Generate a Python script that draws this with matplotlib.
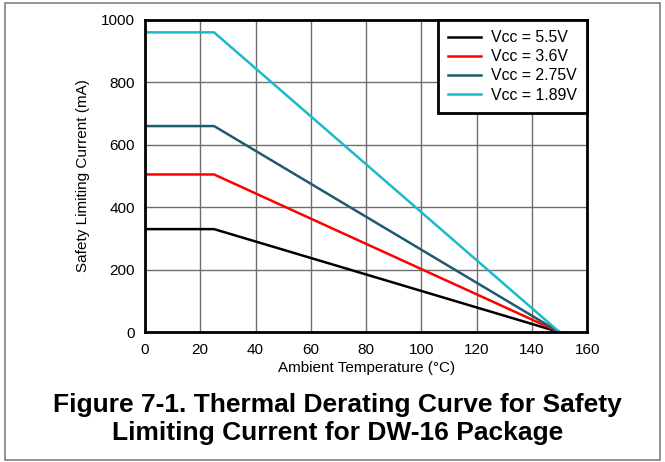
import numpy as np
import matplotlib
matplotlib.use('Agg')
import matplotlib.pyplot as plt
from matplotlib.patches import Rectangle

plt.rcParams['font.family'] = ['Liberation Sans', 'DejaVu Sans']

# Derating curves: flat to 25 C then linear down to 0 at 150 C
temps = [0, 25, 150]
labels = ['Vcc = 5.5V', 'Vcc = 3.6V', 'Vcc = 2.75V', 'Vcc = 1.89V']
currents = [
    [330, 330, 0],
    [505, 505, 0],
    [660, 660, 0],
    [960, 960, 0],
]
colors = ['#000000', '#ff0000', '#1f5b6e', '#1cb8cc']

fig = plt.figure(figsize=(6.65, 4.62), dpi=100)
ax = fig.add_axes([0.218, 0.281, 0.665, 0.676])

for lab, cur, col in zip(labels, currents, colors):
    ax.plot(temps, cur, color=col, linewidth=1.8, label=lab)

ax.set_xlim(0, 160)
ax.set_ylim(0, 1000)
ax.set_xticks(np.arange(0, 161, 20))
ax.set_yticks(np.arange(0, 1001, 200))
ax.grid(True, color='#6e6e6e', linewidth=1.0)
ax.set_axisbelow(True)
for s in ax.spines.values():
    s.set_linewidth(2.0)
ax.tick_params(length=0, labelsize=11, pad=8)
ax.tick_params(axis='y', pad=7)
ax.set_xlabel('Ambient Temperature (°C)', fontsize=11, labelpad=3)
ax.set_ylabel('Safety Limiting Current (mA)', fontsize=11, labelpad=8)

leg = ax.legend(loc='upper right', fontsize=11.4, fancybox=False, framealpha=1,
                edgecolor='black', borderaxespad=0, handlelength=2.1,
                labelspacing=0.26, borderpad=0.65, handletextpad=0.6)
leg.get_frame().set_linewidth(2.0)

fig.text(0.508, 0.093, 'Figure 7-1. Thermal Derating Curve for Safety\nLimiting Current for DW-16 Package',
         ha='center', va='center', fontsize=19, fontweight='bold', linespacing=1.2)

fig.patches.append(Rectangle((0.007, 0.004), 0.986, 0.99, transform=fig.transFigure,
                             fill=False, edgecolor='#808080', linewidth=1.2))

fig.savefig('out.png', dpi=100)
